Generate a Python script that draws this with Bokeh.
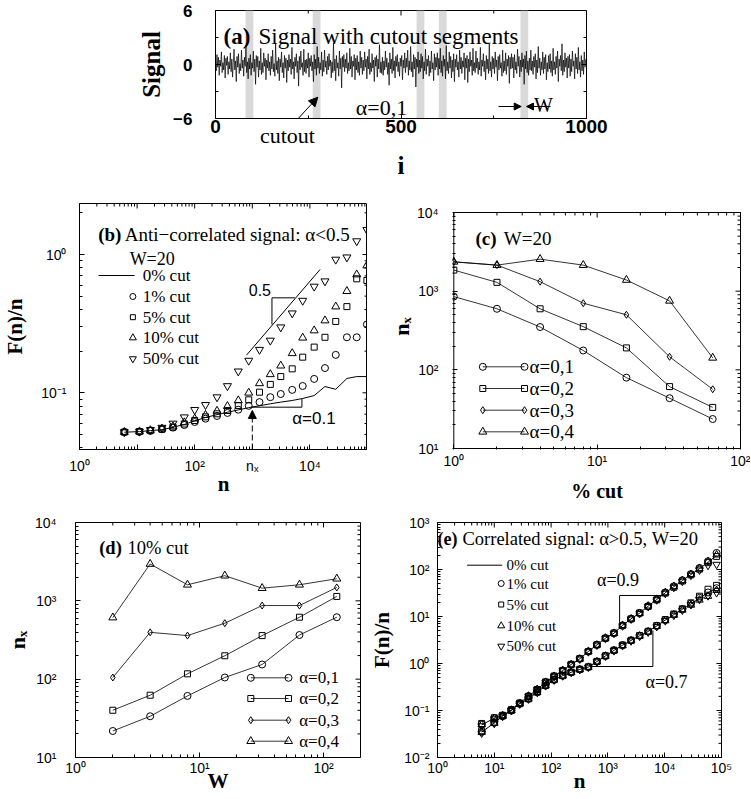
import math
from bokeh.plotting import figure
from bokeh.layouts import column, row
from bokeh.models import (Label, Arrow, NormalHead, FixedTicker, CustomJSTickFormatter,
                          Range1d, LinearAxis)
from bokeh.embed import file_html
from bokeh.resources import INLINE

SERIF = "Liberation Serif"
SANS = "Liberation Sans"

# ---------------- data ----------------
# (a) signal, every second sample i = 0, 2, 4, ...
signal = [
    0.4, -0.7, 1.1, -0.3, 0.8, -1.2, 0.5, -0.2, 1.4, -0.9, 0.2, -0.6, 1.0, -1.5, 0.7, -0.1, 0.9, -1.1, 0.3, -0.5, 1.3, -0.8, 0.6, -1.4, 0.2,
    1.7, -0.6, 0.4, -1.9, 0.9, -0.3, 1.2, -1.0, 0.1, -0.7, 1.6, -0.4, 0.5, -1.3, 0.8, -0.2, 2.1, -0.9, 0.3, -1.6, 0.7, -0.5, 1.1, -1.2, 0.2,
    -0.4, 1.5, -0.8, 0.6, -2.2, 1.0, -0.3, 0.9, -1.4, 0.4, -0.6, 1.8, -1.1, 0.2, -0.9, 1.3, -0.2, 0.7, -1.7, 0.5, -0.4, 1.2, -0.7, 0.3, -1.2,
    0.9, -0.5, 1.6, -0.8, 0.1, -1.3, 2.3, -0.6, 0.4, -1.0, 0.8, -1.8, 0.6, -0.3, 1.4, -0.9, 0.2, -1.5, 1.0, -0.4, 0.7, -2.0, 0.5, -0.7, 1.1,
    -0.3, 0.6, -1.1, 1.9, -0.5, 0.3, -1.6, 0.8, -0.2, 1.2, -0.9, 0.4, -2.4, 0.9, -0.6, 1.5, -0.3, 0.2, -1.2, 1.7, -0.8, 0.5, -1.0, 0.6, -0.4,
    1.3, -1.4, 0.7, -0.2, 1.0, -0.7, 0.3, -1.9, 1.1, -0.5, 0.6, -1.2, 2.0, -0.4, 0.8, -1.0, 0.2, -0.6, 1.4, -1.3, 0.5, -0.8, 1.6, -0.3, 0.4,
    -1.1, 0.9, -0.6, 1.2, -0.2, 0.5, -1.5, 0.3, -0.9, 2.4, -0.7, 0.6, -1.8, 1.0, -0.4, 0.2, -1.3, 1.5, -0.5, 0.7, -2.6, 0.9, -0.3, 1.1, -0.8,
    0.6, -0.4, 1.3, -1.0, 0.2, -0.7, 1.8, -0.5, 0.9, -1.4, 0.4, -0.2, 1.1, -1.7, 0.7, -0.6, 1.0, -0.9, 0.3, -1.2, 1.5, -0.4, 0.8, -1.1, 0.5,
    -0.7, 1.4, -0.3, 0.6, -1.6, 0.9, -0.5, 1.7, -1.1, 0.2, -0.8, 1.2, -0.4, 0.5, -1.9, 0.8, -0.2, 1.0, -1.4, 0.6, -0.5, 2.2, -0.9, 0.3, -1.0,
    0.8, -1.2, 0.4, -0.6, 1.5, -0.3, 0.7, -1.1, 0.2, -2.3, 1.3, -0.5, 0.6, -1.0, 1.9, -0.7, 0.4, -1.5, 0.9, -0.2, 1.1, -0.8, 0.3, -1.3, 0.7,
    -0.2, 1.0, -1.7, 0.5, -0.4, 1.3, -0.9, 0.7, -0.3, 1.6, -1.2, 0.4, -0.6, 2.0, -0.8, 0.3, -1.4, 1.1, -0.5, 0.8, -2.5, 0.6, -0.3, 1.4, -1.0,
    0.5, -0.8, 1.2, -0.4, 0.9, -1.6, 0.3, -0.7, 1.7, -1.1, 0.6, -0.2, 1.0, -1.3, 0.4, -0.9, 1.5, -0.5, 0.2, -1.8, 1.2, -0.6, 0.8, -0.3, 1.3,
    -1.2, 0.7, -0.5, 1.8, -0.9, 0.4, -1.3, 1.0, -0.2, 0.6, -1.6, 2.1, -0.7, 0.3, -1.0, 1.4, -0.4, 0.9, -1.5, 0.5, -0.8, 1.2, -1.9, 0.6, -0.3,
    1.1, -0.6, 0.3, -1.4, 1.6, -0.5, 0.8, -1.0, 0.4, -0.3, 1.3, -1.7, 0.7, -0.4, 1.0, -2.0, 0.6, -0.8, 1.4, -0.2, 0.5, -1.2, 1.8, -0.7, 0.2,
    -0.9, 1.5, -0.4, 0.7, -1.1, 0.3, -0.6, 1.9, -1.3, 0.5, -0.2, 1.2, -0.8, 0.4, -1.7, 1.0, -0.5, 0.6, -1.0, 2.3, -0.7, 0.3, -1.4, 0.9, -0.5,
    0.7, -1.0, 1.4, -0.3, 0.5, -1.8, 0.9, -0.6, 1.1, -0.4, 0.2, -1.3, 1.6, -0.9, 0.4, -0.7, 1.3, -1.1, 0.6, -0.2, 1.0, -2.1, 0.8, -0.5, 1.2,
    -0.4, 0.8, -1.5, 1.1, -0.6, 0.3, -1.0, 1.7, -0.2, 0.9, -1.4, 0.5, -0.8, 1.3, -0.3, 0.6, -2.2, 1.0, -0.5, 1.5, -0.9, 0.4, -1.2, 0.7, -0.6,
    1.6, -0.7, 0.4, -1.1, 0.9, -0.3, 1.2, -1.6, 0.5, -0.9, 2.0, -0.4, 0.7, -1.2, 0.3, -0.6, 1.4, -1.0, 0.8, -0.5, 1.1, -1.7, 0.2, -0.8, 1.0,
    -0.5, 1.2, -0.9, 0.4, -1.3, 1.8, -0.6, 0.3, -1.1, 0.9, -0.4, 1.5, -1.9, 0.6, -0.2, 1.0, -0.7, 2.3, -1.2, 0.5, -0.8, 1.3, -0.3, 0.7, -1.5,
    0.9, -0.4, 1.1, -1.3, 0.6, -0.8, 1.5, -0.2, 0.4, -1.6, 1.2, -0.5, 0.8, -1.0, 1.9, -0.6, 0.3, -1.4, 1.0, -0.7, 0.5, -1.1, 1.4, -0.3, 0.6,
]
signal_i = list(range(0, 2 * len(signal), 2))
cut_starts = [81, 262, 542, 602, 822]
cut_width = 21
cutout_note_i = 194          # where the word "cutout" sits under the axis

# (b) anti-correlated signal, W=20
n_b = [6, 11, 17, 27, 42, 66, 100, 154, 244, 370, 571, 867, 1334, 2055, 3121,
       4932, 7500, 11860, 18270, 28100, 43900, 65000, 97500]
b_cut0 = [0.0519, 0.0524, 0.0533, 0.0541, 0.0564, 0.059, 0.0627, 0.0663, 0.0695, 0.0723, 0.0752, 0.0781,
          0.0806, 0.0833, 0.0856, 0.088, 0.091, 0.0955, 0.111, 0.106, 0.127, 0.131, 0.131]
b_cut1 = [0.052, 0.0522, 0.053, 0.0545, 0.056, 0.0585, 0.0615, 0.065, 0.068, 0.0715, 0.0755, 0.0805,
          0.0856, 0.093, 0.098, 0.105, 0.112, 0.126, 0.151, 0.188, 0.252, 0.252, 0.312]
b_cut5 = [0.052, 0.0525, 0.0535, 0.0545, 0.0565, 0.0595, 0.063, 0.067, 0.0705, 0.0745, 0.081, 0.089,
          0.101, 0.115, 0.131, 0.149, 0.181, 0.214, 0.252, 0.328, 0.42, 0.667, 0.649]
b_cut10 = [0.052, 0.0525, 0.0535, 0.055, 0.057, 0.061, 0.065, 0.069, 0.074, 0.08, 0.088, 0.1,
           0.117, 0.136, 0.157, 0.193, 0.25, 0.282, 0.333, 0.42, 0.543, 0.716, 0.832]
b_cut50 = [0.052, 0.0525, 0.054, 0.056, 0.06, 0.0666, 0.0753, 0.0818, 0.093, 0.112, 0.143, 0.171,
           0.205, 0.239, 0.298, 0.376, 0.464, 0.587, 0.641, 0.92, 0.955, 1.25, 1.51]
b_ref05_n = [791, 15030]
b_ref05_F = [0.187, 0.779]
b_tri05_n = [2195, 2195, 5480]
b_tri05_F = [0.312, 0.486, 0.486]
b_tri01_n = [958, 7270, 7270]
b_tri01_F = [0.0787, 0.0787, 0.0905]
n_x = 1000
n_x_F = 0.0745

# (c) W=20
pct_cut = [1, 2, 4, 8, 16, 32, 64]
c_a01 = [853, 597, 350, 176, 79.6, 43.6, 23.7]
c_a02 = [1854, 1295, 597, 354, 190, 61.2, 33.3]
c_a03 = [2361, 2143, 1321, 703, 501, 146.5, 56.6]
c_a04 = [2361, 2143, 2553, 2143, 1387, 753, 142]

# (d) 10% cut
W_vals = [2, 4, 8, 16, 32, 64, 128]
d_a01 = [21.8, 33.6, 61.1, 105, 154, 366, 618]
d_a02 = [40.1, 62.4, 117, 199, 360, 618, 1138]
d_a03 = [105, 396, 360, 518, 871, 871, 1483]
d_a04 = [611, 2953, 1603, 2093, 1451, 1603, 1914]

# (e) correlated signals, W=20
n_e = [6, 10, 14, 20, 28, 40, 57, 80, 113, 160, 226, 320, 453, 640, 905, 1280, 1810, 2560, 3620,
       5120, 7241, 10240, 14482, 20480, 28963, 40960, 57926, 81920]
e09_cut0 = [0.0495, 0.0687, 0.0783, 0.103, 0.143, 0.202, 0.28, 0.401, 0.537, 0.71, 0.953, 1.26, 1.8, 2.49,
            3.46, 4.42, 6.44, 8.92, 11.8, 16.6, 23.0, 31.9, 43.0, 58.0, 78.0, 104, 142, 200]
e09_cut1 = [0.051, 0.0687, 0.0783, 0.103, 0.143, 0.202, 0.28, 0.401, 0.537, 0.71, 0.953, 1.26, 1.8, 2.49,
            3.46, 4.42, 6.44, 8.92, 11.8, 16.6, 23.0, 32.5, 44.0, 59.0, 80.0, 108, 150, 225]
e09_cut5 = [0.053, 0.07, 0.079, 0.104, 0.144, 0.2, 0.28, 0.405, 0.54, 0.71, 0.96, 1.27, 1.8, 2.5,
            3.45, 4.45, 6.4, 8.9, 11.9, 16.4, 22.6, 31.5, 42.0, 57.0, 77.0, 102, 140, 190]
e09_cut10 = [0.05, 0.068, 0.078, 0.102, 0.142, 0.203, 0.282, 0.4, 0.535, 0.715, 0.95, 1.25, 1.82, 2.48,
             3.48, 4.4, 6.5, 8.95, 11.7, 16.8, 23.3, 32.2, 43.5, 58.5, 79.0, 105, 148, 205]
e09_cut50 = [0.047, 0.066, 0.077, 0.101, 0.14, 0.2, 0.277, 0.395, 0.53, 0.7, 0.94, 1.24, 1.77, 2.45,
             3.4, 4.35, 6.3, 8.8, 11.5, 16.2, 22.5, 31.0, 41.5, 56.0, 75.0, 97, 122, 128]
e07_cut0 = [0.0346, 0.0547, 0.0759, 0.1, 0.139, 0.177, 0.245, 0.34, 0.45, 0.55, 0.65, 0.75, 0.84, 1.1,
            1.45, 1.9, 2.45, 3.1, 3.9, 4.8, 6.3, 8.4, 11.0, 14.2, 18.5, 24.5, 32.0, 41.0]
e07_cut1 = [0.035, 0.0547, 0.0759, 0.1, 0.139, 0.177, 0.245, 0.34, 0.45, 0.55, 0.65, 0.75, 0.84, 1.1,
            1.45, 1.9, 2.45, 3.1, 3.9, 4.8, 6.3, 8.4, 11.0, 14.2, 18.8, 25.0, 32.5, 40.0]
e07_cut5 = [0.037, 0.056, 0.077, 0.101, 0.14, 0.178, 0.247, 0.342, 0.452, 0.553, 0.655, 0.755, 0.85, 1.11,
            1.46, 1.92, 2.47, 3.12, 3.95, 4.85, 6.4, 8.6, 11.3, 14.6, 19.5, 27.0, 38.0, 46.0]
e07_cut10 = [0.0345, 0.054, 0.0755, 0.099, 0.138, 0.176, 0.243, 0.338, 0.447, 0.547, 0.645, 0.745, 0.835, 1.09,
             1.44, 1.88, 2.42, 3.05, 3.85, 4.7, 6.2, 8.2, 10.7, 13.8, 17.5, 22.5, 27.0, 36.0]
e07_cut50 = [0.033, 0.053, 0.075, 0.099, 0.137, 0.175, 0.242, 0.336, 0.445, 0.545, 0.643, 0.742, 0.83, 1.08,
             1.43, 1.87, 2.4, 3.02, 3.8, 4.65, 6.1, 8.1, 10.6, 13.6, 17.8, 23.0, 27.5, 32.0]
e_tri09_n = [1607, 1607, 10350]
e_tri09_F = [6.44, 28.0, 28.0]
e_tri07_n = [497, 6194, 6194]
e_tri07_F = [0.863, 0.863, 5.04]


# ---------------- helpers ----------------
def anchor_range(edge_a, edge_b, v0, p0, v1, p1, log):
    """Values at pixel edges edge_a/edge_b for an axis where v0 sits at p0 and v1 at p1."""
    l0, l1 = (math.log10(v0), math.log10(v1)) if log else (v0, v1)
    s = (l1 - l0) / (p1 - p0)
    a, b = l0 + (edge_a - p0) * s, l0 + (edge_b - p0) * s
    return (10 ** a, 10 ** b) if log else (a, b)


class Frame:
    """Figure placed at page offset (ox, oy); borders fix the plot frame in page pixels."""
    def __init__(self, ox, oy, w, h, bl, bt, br, bb, xlog, ylog):
        self.ox, self.oy, self.w, self.h = ox, oy, w, h
        self.bl, self.bt, self.br, self.bb = bl, bt, br, bb
        self.left, self.right = ox + bl, ox + w - br
        self.top, self.bottom = oy + bt, oy + h - bb
        self.xlog, self.ylog = xlog, ylog
        self.xr = self.yr = None

    @staticmethod
    def _map(f, r, log):
        if log:
            a, b = math.log10(r[0]), math.log10(r[1])
            return 10 ** (a + f * (b - a))
        return r[0] + f * (r[1] - r[0])

    def x(self, px):
        return self._map((px - self.left) / (self.right - self.left), self.xr, self.xlog)

    def y(self, py):
        return self._map((self.bottom - py) / (self.bottom - self.top), self.yr, self.ylog)


def make_fig(F):
    p = figure(width=F.w, height=F.h, title=None,
               x_axis_type="log" if F.xlog else "linear",
               y_axis_type="log" if F.ylog else "linear",
               x_range=Range1d(*F.xr), y_range=Range1d(*F.yr),
               min_border_left=F.bl, min_border_right=F.br,
               min_border_top=F.bt, min_border_bottom=F.bb,
               toolbar_location=None, output_backend="svg")
    p.xgrid.visible = False
    p.ygrid.visible = False
    p.outline_line_color = "black"
    p.outline_line_alpha = 1.0
    p.outline_line_width = 1
    p.background_fill_color = "white"
    p.border_fill_color = "white"
    return p


SUP_JS = """
const sup = {'-':'\u207b','0':'\u2070','1':'\u00b9','2':'\u00b2','3':'\u00b3','4':'\u2074',
             '5':'\u2075','6':'\u2076','7':'\u2077','8':'\u2078','9':'\u2079'};
const e = Math.round(Math.log10(tick));
if (special.hasOwnProperty(String(e))) { return special[String(e)]; }
if (hide.indexOf(e) >= 0) { return ''; }
return '10' + String(e).split('').map(c => sup[c]).join('');
"""


def log_fmt(hide=(), special=None):
    return CustomJSTickFormatter(args=dict(hide=list(hide), special=dict(special or {})), code=SUP_JS)


def style_axis(ax, ticks, minor, fmt=None, size="14px", standoff=5, style="normal"):
    ax.ticker = FixedTicker(ticks=ticks, minor_ticks=minor)
    if fmt is not None:
        ax.formatter = fmt
    ax.major_tick_in = 5
    ax.major_tick_out = 0
    ax.minor_tick_in = 3
    ax.minor_tick_out = 0
    ax.major_tick_line_color = "black"
    ax.minor_tick_line_color = "black"
    ax.axis_line_color = "black"
    ax.major_label_text_font = SANS
    ax.major_label_text_font_size = size
    ax.major_label_text_font_style = style
    ax.major_label_text_color = "black"
    ax.major_label_standoff = standoff


def title_axis(ax, text, size, standoff):
    ax.axis_label = text
    ax.axis_label_text_font = SERIF
    ax.axis_label_text_font_style = "bold"
    ax.axis_label_text_font_size = f"{size}px"
    ax.axis_label_text_color = "black"
    ax.axis_label_standoff = standoff


def mirror(p, xmaj, xmin, ymaj, ymin, xbox, ybox):
    """Inward ticks on the top and right edges of the box xbox x ybox."""
    def inside(v, r):
        return min(r) <= v <= max(r)
    for vals, ln in ((xmaj, 5), (xmin, 3)):
        v = [t for t in vals if inside(t, xbox)]
        p.ray(x=v, y=[ybox[1]] * len(v), length=ln, length_units="screen",
              angle=-math.pi / 2, line_color="black", line_width=1)
    for vals, ln in ((ymaj, 5), (ymin, 3)):
        v = [t for t in vals if inside(t, ybox)]
        p.ray(x=[xbox[1]] * len(v), y=v, length=ln, length_units="screen",
              angle=math.pi, line_color="black", line_width=1)


def lab(p, F, px, py, text, size, font=SERIF, style="normal", align="left",
        baseline="alphabetic", angle=0.0):
    p.add_layout(Label(x=F.x(px), y=F.y(py), text=text, text_font=font,
                       text_font_size=f"{size}px", text_font_style=style,
                       text_align=align, text_baseline=baseline, angle=angle,
                       text_color="black"))


def arrow_px(p, F, x0, y0, x1, y1, size=8, dash="solid"):
    p.add_layout(Arrow(end=NormalHead(size=size, fill_color="black", line_color="black", line_width=1),
                       x_start=F.x(x0), y_start=F.y(y0), x_end=F.x(x1), y_end=F.y(y1),
                       line_color="black", line_width=1, line_dash=dash))


def mk(p, x, y, marker, size, lw=1.0):
    p.scatter(x=x, y=y, marker=marker, size=size, fill_color=None,
              line_color="black", line_width=lw)


def log_minor(e0, e1):
    return [m * 10.0 ** e for e in range(e0, e1) for m in range(2, 10)]


def decades(e0, e1):
    return [10.0 ** e for e in range(e0, e1 + 1)]


MK = {"circle": 7, "square": 6, "triangle": 8, "inverted_triangle": 8, "diamond": 7}

# ================= (a) =================
Fa = Frame(0, 0, 750, 190, 215, 10, 164, 72, False, False)
Fa.xr, Fa.yr = (0, 1000), (-6, 6)
pa = make_fig(Fa)
pa.quad(left=cut_starts, right=[s + cut_width for s in cut_starts], bottom=-6, top=6,
        fill_color="#d9d9d9", line_color=None)
pa.line(signal_i, signal, line_color="black", line_width=0.7)
style_axis(pa.xaxis[0], [0, 500, 1000], [250, 750], size="19px", standoff=1, style="bold")
style_axis(pa.yaxis[0], [-6, 0, 6], [-3, 3],
           fmt=CustomJSTickFormatter(code="return tick < 0 ? '\u2212' + Math.abs(tick) : String(tick);"),
           size="17px", standoff=23, style="bold")
title_axis(pa.yaxis[0], "Signal", 25, 5)
note_axis = LinearAxis(ticker=FixedTicker(ticks=[cutout_note_i], minor_ticks=[]),
                       formatter=CustomJSTickFormatter(code="return 'cutout';"))
note_axis.major_tick_line_color = None
note_axis.minor_tick_line_color = None
note_axis.axis_line_color = None
note_axis.major_label_text_font = SERIF
note_axis.major_label_text_font_size = "22px"
note_axis.major_label_text_color = "black"
note_axis.major_label_standoff = -19
title_axis(note_axis, "i", 25, 1)
pa.add_layout(note_axis, "below")
mirror(pa, [0, 500, 1000], [250, 750], [-6, 0, 6], [-3, 3], Fa.xr, Fa.yr)
lab(pa, Fa, 223, 36, "(a)", 23, style="bold")
lab(pa, Fa, 258, 36, "Signal with cutout segments", 23)
lab(pa, Fa, 381, 107, "\u03b1=0,1", 22, align="center")
lab(pa, Fa, 543, 104, "W", 20, align="center")
arrow_px(pa, Fa, 288.3, 128.3, 317.3, 96.7, size=9)
arrow_px(pa, Fa, 498, 106, 520.7, 106, size=7)
arrow_px(pa, Fa, 550, 106, 526, 106, size=7)

# ================= (b) =================
Fb = Frame(0, 190, 367, 318, 74, 13, 0, 59, True, True)
Fb.xr = (1, 1e5)
Fb.yr = anchor_range(Fb.bottom, Fb.top, 1.0, 254, 0.1, 392.3, True)
pb = make_fig(Fb)
style_axis(pb.xaxis[0], decades(0, 5), log_minor(0, 5),
           fmt=log_fmt([1, 5], {"3": "n\u2093"}), standoff=8)
style_axis(pb.yaxis[0], [0.1, 1.0], log_minor(-2, 1), fmt=log_fmt(), standoff=13)
title_axis(pb.xaxis[0], "n", 21, -5)
title_axis(pb.yaxis[0], "F(n)/n", 21, 11)
mirror(pb, decades(0, 5), log_minor(0, 5), [0.1, 1.0], log_minor(-2, 1), Fb.xr, Fb.yr)
pb.line(n_b, b_cut0, line_color="black", line_width=1)
mk(pb, n_b, b_cut1, "circle", MK["circle"])
mk(pb, n_b, b_cut5, "square", MK["square"])
mk(pb, n_b, b_cut10, "triangle", MK["triangle"])
mk(pb, n_b, b_cut50, "inverted_triangle", MK["inverted_triangle"])
pb.line(b_ref05_n, b_ref05_F, line_color="black", line_width=1)
pb.line(b_tri05_n, b_tri05_F, line_color="black", line_width=1)
pb.line(b_tri01_n, b_tri01_F, line_color="black", line_width=1)
pb.add_layout(Arrow(end=NormalHead(size=8, fill_color="black", line_color="black", line_width=1),
                    x_start=n_x, y_start=Fb.yr[0], x_end=n_x, y_end=n_x_F,
                    line_color="black", line_width=1, line_dash="6 3"))
lab(pb, Fb, 93, 234, "(b)", 19, style="bold")
lab(pb, Fb, 120, 234, "Anti\u2212correlated signal: \u03b1<0.5", 19)
lab(pb, Fb, 125, 258, "W=20", 18)
rows_b = [275, 296, 316.7, 337.3, 358.3]
pb.line([Fb.x(93.3), Fb.x(130)], [Fb.y(rows_b[0])] * 2, line_color="black", line_width=1)
for yy, m in zip(rows_b[1:], ["circle", "square", "triangle", "inverted_triangle"]):
    mk(pb, [Fb.x(128.3)], [Fb.y(yy)], m, MK[m] - 1)
for yy, t in zip(rows_b, ["0% cut", "1% cut", "5% cut", "10% cut", "50% cut"]):
    lab(pb, Fb, 138.3, yy, t, 17, baseline="middle")
lab(pb, Fb, 257.5, 289.3, "0.5", 16, font=SANS, align="center", baseline="middle")
lab(pb, Fb, 312.5, 418.3, "\u03b1=0.1", 17, font=SANS, align="center", baseline="middle")

# ================= (c) =================
# the row shares frame edges with (b); the box of (c) is drawn inside its taller frame
Fc = Frame(367, 190, 383, 318, 85, 13, 9, 59, True, True)
Fc.xr = anchor_range(Fc.left, Fc.right, 1, 453.3, 100, 740, True)
Fc.yr = anchor_range(Fc.bottom, Fc.top, 10, 448, 1e4, 212, True)
c_box_x, c_box_y = (1, 100), (10, 1e4)
pc = make_fig(Fc)
pc.outline_line_color = None
style_axis(pc.xaxis[0], decades(0, 2), log_minor(0, 2), fmt=log_fmt(), standoff=3)
style_axis(pc.yaxis[0], decades(1, 4), log_minor(1, 4), fmt=log_fmt(), standoff=14)
pc.xaxis[0].axis_line_color = None
pc.yaxis[0].axis_line_color = None
title_axis(pc.xaxis[0], "% cut", 20, 8)
title_axis(pc.yaxis[0], "n\u2093", 22, 0)
pc.quad(left=c_box_x[0], right=c_box_x[1], bottom=c_box_y[0], top=c_box_y[1],
        fill_color=None, line_color="black", line_width=1)
mirror(pc, decades(0, 2), log_minor(0, 2), decades(1, 4), log_minor(1, 4), c_box_x, c_box_y)
for ys, m in ((c_a01, "circle"), (c_a02, "square"), (c_a03, "diamond"), (c_a04, "triangle")):
    pc.line(pct_cut, ys, line_color="black", line_width=0.8)
    mk(pc, pct_cut, ys, m, MK[m])
lab(pc, Fc, 475, 238, "(c)", 19, style="bold")
lab(pc, Fc, 503.3, 238, "W=20", 19)
rows_c = [366.3, 388, 409.7, 431.3]
for yy, m, t in zip(rows_c, ["circle", "square", "diamond", "triangle"],
                    ["\u03b1=0,1", "\u03b1=0,2", "\u03b1=0,3", "\u03b1=0,4"]):
    xs = [Fc.x(482.3), Fc.x(524)]
    pc.line(xs, [Fc.y(yy)] * 2, line_color="black", line_width=0.8)
    mk(pc, xs, [Fc.y(yy)] * 2, m, MK[m])
    lab(pc, Fc, 529, yy, t, 19, baseline="middle")

# ================= (d) =================
Fd = Frame(0, 508, 367, 290, 75, 14, 7, 41, True, True)
Fd.xr = anchor_range(Fd.left, Fd.right, 1, 75, 10, 199, True)
Fd.yr = (10, 1e4)
pd_ = make_fig(Fd)
style_axis(pd_.xaxis[0], decades(0, 2), log_minor(0, 3), fmt=log_fmt(), standoff=2)
style_axis(pd_.yaxis[0], decades(1, 4), log_minor(1, 4), fmt=log_fmt(), standoff=19)
title_axis(pd_.xaxis[0], "W", 21, -10)
title_axis(pd_.yaxis[0], "n\u2093", 22, 2)
mirror(pd_, decades(0, 2), log_minor(0, 3), decades(1, 4), log_minor(1, 4), Fd.xr, Fd.yr)
for ys, m in ((d_a01, "circle"), (d_a02, "square"), (d_a03, "diamond"), (d_a04, "triangle")):
    pd_.line(W_vals, ys, line_color="black", line_width=0.8)
    mk(pd_, W_vals, ys, m, MK[m])
lab(pd_, Fd, 98.7, 547, "(d)", 18.5, style="bold")
lab(pd_, Fd, 127, 547, "10% cut", 18.5)
rows_d = [677.3, 698, 719.7, 740.7]
for yy, m, t in zip(rows_d, ["circle", "square", "diamond", "triangle"],
                    ["\u03b1=0,1", "\u03b1=0,2", "\u03b1=0,3", "\u03b1=0,4"]):
    xs = [Fd.x(250.3), Fd.x(288)]
    pd_.line(xs, [Fd.y(yy)] * 2, line_color="black", line_width=0.8)
    mk(pd_, xs, [Fd.y(yy)] * 2, m, MK[m])
    lab(pd_, Fd, 298.7, yy, t, 17, baseline="middle")

# ================= (e) =================
Fe = Frame(367, 508, 383, 290, 70, 14, 29, 41, True, True)
Fe.xr, Fe.yr = (1, 1e5), (0.01, 1000)
pe = make_fig(Fe)
style_axis(pe.xaxis[0], decades(0, 5), log_minor(0, 5), fmt=log_fmt(), standoff=2)
style_axis(pe.yaxis[0], decades(-2, 3), log_minor(-2, 3), fmt=log_fmt(), standoff=8)
title_axis(pe.xaxis[0], "n", 21, -10)
title_axis(pe.yaxis[0], "F(n)/n", 21, 7)
mirror(pe, decades(0, 5), log_minor(0, 5), decades(-2, 3), log_minor(-2, 3), Fe.xr, Fe.yr)
for c0, c1, c5, c10, c50 in ((e09_cut0, e09_cut1, e09_cut5, e09_cut10, e09_cut50),
                             (e07_cut0, e07_cut1, e07_cut5, e07_cut10, e07_cut50)):
    pe.line(n_e, c0, line_color="black", line_width=1)
    mk(pe, n_e, c1, "circle", 7)
    mk(pe, n_e, c5, "square", 6)
    mk(pe, n_e, c10, "triangle", 7.5)
    mk(pe, n_e, c50, "inverted_triangle", 7.5)
pe.line(e_tri09_n, e_tri09_F, line_color="black", line_width=1)
pe.line(e_tri07_n, e_tri07_F, line_color="black", line_width=1)
lab(pe, Fe, 437, 538, "(e)", 18, style="bold")
lab(pe, Fe, 462, 538, "Correlated signal: \u03b1>0.5, W=20", 18.5)
rows_e = [564.7, 583, 604, 625.3, 645.7]
pe.line([Fe.x(466.7), Fe.x(501.7)], [Fe.y(rows_e[0])] * 2, line_color="black", line_width=1)
for yy, m in zip(rows_e[1:], ["circle", "square", "triangle", "inverted_triangle"]):
    mk(pe, [Fe.x(500.7)], [Fe.y(yy)], m, MK[m] - 1)
for yy, t in zip(rows_e, ["0% cut", "1% cut", "5% cut", "10% cut", "50% cut"]):
    lab(pe, Fe, 506, yy, t, 15, baseline="middle")
lab(pe, Fe, 617.5, 579.7, "\u03b1=0.9", 18, align="center", baseline="middle")
lab(pe, Fe, 666, 681.3, "\u03b1=0.7", 18, align="center", baseline="middle")

layout = column(pa, row(pb, pc), row(pd_, pe))
open("out.html", "w").write(file_html(layout, INLINE, title="Cutout segments"))
